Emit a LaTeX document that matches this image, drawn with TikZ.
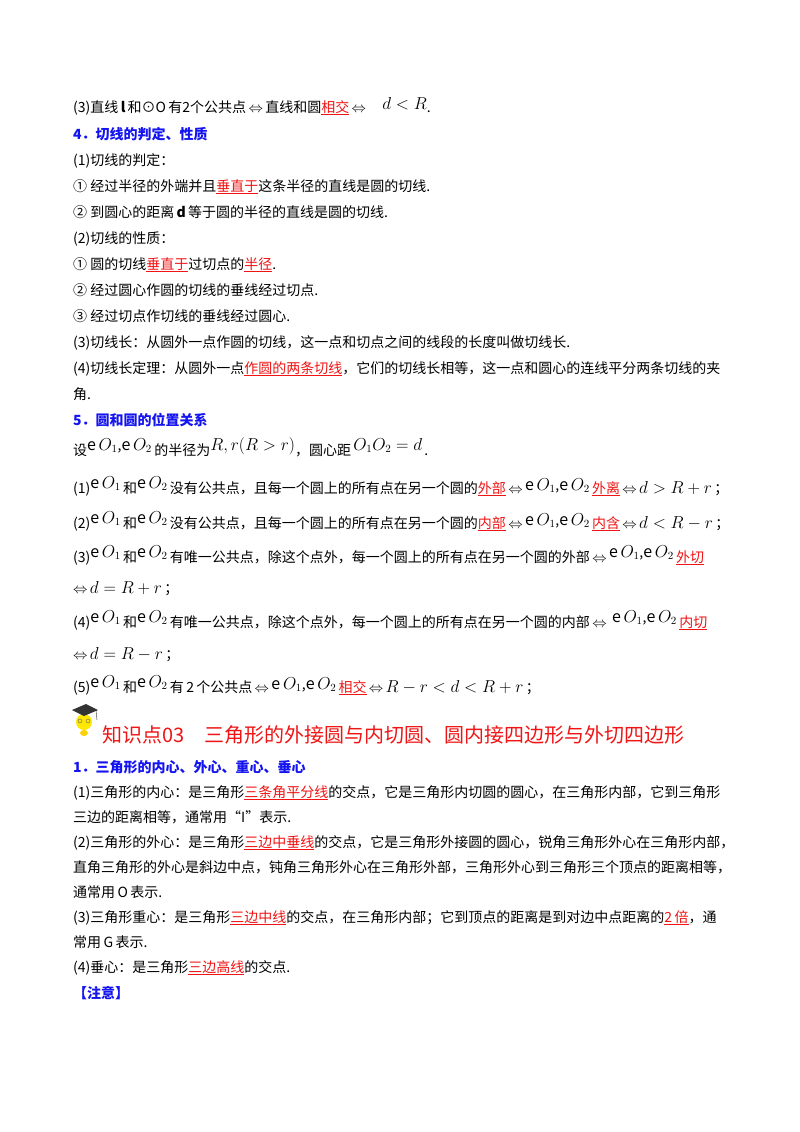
\documentclass[tikz,border=0pt]{standalone}
\usepackage{fontspec}
\setmainfont{Noto Sans CJK SC}
\usepackage{xcolor}
\definecolor{hblue}{RGB}{20,20,240}
\definecolor{hred}{RGB}{240,20,20}
\newcommand{\rl}[1]{\textcolor{hred}{\underline{#1}}}
\newcommand{\eO}[1]{\mbox{\fontsize{16}{18}\selectfont e\,$O_{#1}$}}
\newcommand{\mth}[1]{\mbox{\fontsize{16}{18}\selectfont$#1$}}
\newcommand{\LR}{\,$\Leftrightarrow$\,}
\tikzset{ln/.style={anchor=base west,inner sep=0pt,font=\fontsize{14}{17}\selectfont},
hd/.style={ln,text=hblue,font=\fontsize{14}{17}\selectfont\bfseries}}
\begin{document}
\begin{tikzpicture}[x=1pt,y=-1pt]
\useasboundingbox (0,0) rectangle (800,1132);
\fill[white] (0,0) rectangle (800,1132);
\node[ln] (l1) at (73,112) {(3)直线\,\textbf{\textit{l}}\,和⊙O\,有2个公共点\LR 直线和圆\rl{相交}\LR\quad \raisebox{3pt}{\mth{d<R}}.};
\node[hd] (h4) at (73,139) {4．切线的判定、性质};
\node[ln] (l3) at (73,165) {(1)切线的判定：};
\node[ln] (l4) at (73,191) {① 经过半径的外端并且\rl{垂直于}这条半径的直线是圆的切线.};
\node[ln] (l5) at (73,217) {② 到圆心的距离\,\textbf{d}\,等于圆的半径的直线是圆的切线.};
\node[ln] (l6) at (73,243) {(2)切线的性质：};
\node[ln] (l7) at (73,269) {① 圆的切线\rl{垂直于}过切点的\rl{半径}.};
\node[ln] (l8) at (73,295) {② 经过圆心作圆的切线的垂线经过切点.};
\node[ln] (l9) at (73,321) {③ 经过切点作切线的垂线经过圆心.};
\node[ln] (l10) at (73,347) {(3)切线长：从圆外一点作圆的切线，这一点和切点之间的线段的长度叫做切线长.};
\node[ln] (l11) at (73,373) {(4)切线长定理：从圆外一点\rl{作圆的两条切线}，它们的切线长相等，这一点和圆心的连线平分两条切线的夹};
\node[ln] (l12) at (73,399) {角.};
\node[hd] (h5) at (73,425) {5．圆和圆的位置关系};
\node[ln] (l14) at (73,455) {设\raisebox{5pt}{\eO1,\eO2}\,的半径为\raisebox{5pt}{\mth{R,r(R>r)}}，圆心距\,\raisebox{5pt}{\mth{O_1O_2=d}}\,.};
\node[ln] (l15) at (73,493) {(1)\raisebox{5pt}{\eO1}\,和\raisebox{5pt}{\eO2}\,没有公共点，且每一个圆上的所有点在另一个圆的\rl{外部}\LR\raisebox{3pt}{\eO1,\eO2}\,\rl{外离}\LR\mth{d>R+r}\,；};
\node[ln] (l16) at (73,528) {(2)\raisebox{5pt}{\eO1}\,和\raisebox{5pt}{\eO2}\,没有公共点，且每一个圆上的所有点在另一个圆的\rl{内部}\LR\raisebox{3pt}{\eO1,\eO2}\,\rl{内含}\LR\mth{d<R-r}\,；};
\node[ln] (l17) at (73,562) {(3)\raisebox{5pt}{\eO1}\,和\raisebox{5pt}{\eO2}\,有唯一公共点，除这个点外，每一个圆上的所有点在另一个圆的外部\LR\raisebox{5pt}{\eO1,\eO2}\,\rl{外切}};
\node[ln] (l18) at (73,593) {$\Leftrightarrow$\,\mth{d=R+r}\,；};
\node[ln] (l19) at (73,627) {(4)\raisebox{5pt}{\eO1}\,和\raisebox{5pt}{\eO2}\,有唯一公共点，除这个点外，每一个圆上的所有点在另一个圆的内部\LR\ \raisebox{5pt}{\eO1,\eO2}\,\rl{内切}};
\node[ln] (l20) at (73,659) {$\Leftrightarrow$\,\mth{d=R-r}\,；};
\node[ln] (l21) at (73,692) {(5)\raisebox{5pt}{\eO1}\,和\raisebox{5pt}{\eO2}\,有\,2\,个公共点\LR\raisebox{3pt}{\eO1,\eO2}\,\rl{相交}\LR\mth{R-r<d<R+r}\,；};
% icon
\fill[yellow!90!orange] (84,722) circle (8);
\fill[yellow!70!orange] (84,733) ellipse (4 and 3);
\fill[black!80] (72,710) -- (86,704) -- (98,710) -- (84,716) -- cycle;
\draw[black!80] (96,710) -- (97,720);
\draw[black!60] (80,721) circle (2) (88,721) circle (2);
\node[ln,text=hred,font=\fontsize{20}{22}\selectfont] (tt) at (102,742) {知识点03\quad 三角形的外接圆与内切圆、圆内接四边形与外切四边形};
\node[hd] (h1) at (73,772) {1．三角形的内心、外心、重心、垂心};
\node[ln] (m1) at (73,797) {(1)三角形的内心：是三角形\rl{三条角平分线}的交点，它是三角形内切圆的圆心，在三角形内部，它到三角形};
\node[ln] (m2) at (73,822) {三边的距离相等，通常用“I”表示.};
\node[ln] (m3) at (73,847) {(2)三角形的外心：是三角形\rl{三边中垂线}的交点，它是三角形外接圆的圆心，锐角三角形外心在三角形内部，};
\node[ln] (m4) at (73,872) {直角三角形的外心是斜边中点，钝角三角形外心在三角形外部，三角形外心到三角形三个顶点的距离相等，};
\node[ln] (m5) at (73,897) {通常用\,O\,表示.};
\node[ln] (m6) at (73,922) {(3)三角形重心：是三角形\rl{三边中线}的交点，在三角形内部；它到顶点的距离是到对边中点距离的\rl{2\,倍}，通};
\node[ln] (m7) at (73,947) {常用\,G\,表示.};
\node[ln] (m8) at (73,972) {(4)垂心：是三角形\rl{三边高线}的交点.};
\node[hd] (zy) at (73,998) {【注意】};
\end{tikzpicture}
\end{document}
